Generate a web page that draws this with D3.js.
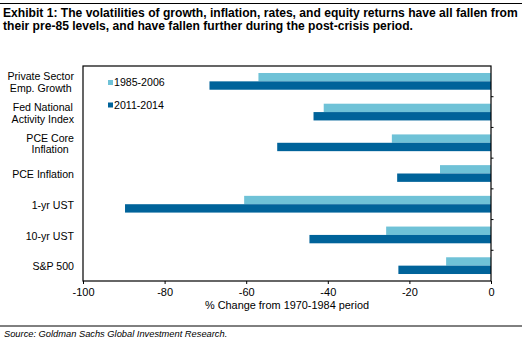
<!DOCTYPE html>
<html>
<head>
<meta charset="utf-8">
<script src="https://cdn.jsdelivr.net/npm/d3@7"></script>
<style>
  body { margin: 0; background: #fff; }
  svg { display: block; font-family: "Liberation Sans", Arial, sans-serif; }
</style>
</head>
<body>
<div id="chart"></div>
<script>
// ===== データ =====
const categories = [
  ["Private Sector", "Emp. Growth"],
  ["Fed National", "Activity Index"],
  ["PCE Core", "Inflation"],
  ["PCE Inflation"],
  ["1-yr UST"],
  ["10-yr UST"],
  ["S&P 500"]
];
const seriesNames = ["1985-2006", "2011-2014"];
const values1985 = [-57, -41, -24.3, -12.5, -60.5, -25.7, -11];
const values2011 = [-69, -43.5, -52.4, -23, -89.7, -44.5, -22.7];
const xTicks = [-100, -80, -60, -40, -20, 0];

const titleLines = [
  "Exhibit 1: The volatilities of growth, inflation, rates, and equity returns have all fallen from",
  "their pre-85 levels, and have fallen further during the post-crisis period."
];
const xLabel = "%  Change from 1970-1984 period";
const sourceText = "Source: Goldman Sachs Global Investment Research.";

// ===== 設定 =====
const W = 529, H = 341;
const PLOT = { left: 83, right: 491, top: 66, bottom: 281 };
const COLORS = ["#6fc2d7", "#00639a"];

const svg = d3.select('#chart').append('svg').attr('width', W).attr('height', H);

// タイトル
svg.append('line').attr('x1', 0).attr('x2', 522).attr('y1', 3.5).attr('y2', 3.5)
  .attr('stroke', '#000').attr('stroke-width', 1);
titleLines.forEach((t, i) => {
  svg.append('text')
    .attr('x', 3).attr('y', 16.5 + i * 13.5)
    .style('font-size', '12.1px').style('font-weight', 'bold')
    .text(t);
});

// スケール
const x = d3.scaleLinear().domain([-100, 0]).range([PLOT.left, PLOT.right]);
const y0 = d3.scaleBand().domain(d3.range(categories.length))
  .range([PLOT.top, PLOT.bottom]).paddingInner(0.455).paddingOuter(0.2275);
const y1 = d3.scaleBand().domain([0, 1]).range([0, y0.bandwidth()]);

const g = svg.append('g');

// バー
const rows = categories.map((c, i) => ({ i, vals: [values1985[i], values2011[i]] }));
g.selectAll('g.cat')
  .data(rows)
  .join('g')
  .attr('class', 'cat')
  .attr('transform', d => `translate(0,${y0(d.i)})`)
  .selectAll('rect')
  .data(d => d.vals.map((v, s) => ({ v, s })))
  .join('rect')
  .attr('x', d => x(d.v))
  .attr('width', d => x(0) - x(d.v))
  .attr('y', d => y1(d.s))
  .attr('height', y1.bandwidth())
  .attr('fill', d => COLORS[d.s]);

// 枠
svg.append('rect')
  .attr('x', PLOT.left).attr('y', PLOT.top)
  .attr('width', PLOT.right - PLOT.left).attr('height', PLOT.bottom - PLOT.top)
  .attr('fill', 'none').attr('stroke', '#000').attr('stroke-width', 1.2);

// 下軸（ハイフンのマイナス表記）
const xAxis = d3.axisBottom(x).tickValues(xTicks).tickSize(3).tickPadding(4)
  .tickFormat(d => String(d));
const xg = svg.append('g').attr('transform', `translate(0,${PLOT.bottom})`).call(xAxis);
xg.select('.domain').remove();
xg.selectAll('text').style('font-size', '11px').attr('fill', '#000')
  .style('font-family', '"Liberation Sans", Arial, sans-serif');

// 右側（0軸）の区切り目盛り
const sepYs = d3.range(1, categories.length).map(i => PLOT.top + i * y0.step());
svg.selectAll('line.sep').data(sepYs).join('line')
  .attr('class', 'sep')
  .attr('x1', PLOT.right).attr('x2', PLOT.right + 2.5)
  .attr('y1', d => d).attr('y2', d => d)
  .attr('stroke', '#000');

svg.append('text')
  .attr('x', (PLOT.left + PLOT.right) / 2).attr('y', 309)
  .attr('text-anchor', 'middle')
  .style('font-size', '10.9px')
  .text(xLabel);

// カテゴリラベル（右寄せブロック内で中央揃え）
const LABEL_RIGHT = 74;
const LINE_H = 11.6;
categories.forEach((lines, i) => {
  const cy = y0(i) + y0.bandwidth() / 2 + 1;
  const tg = svg.append('g');
  const texts = lines.map((ln, k) => tg.append('text')
    .attr('y', cy + (k - (lines.length - 1) / 2) * LINE_H)
    .attr('dy', '0.35em')
    .style('font-size', '10.6px')
    .text(ln));
  const maxW = d3.max(texts, t => t.node().getComputedTextLength());
  texts.forEach(t => t.attr('x', LABEL_RIGHT - maxW / 2).attr('text-anchor', 'middle'));
});

// 凡例
const legend = svg.append('g').attr('transform', 'translate(108,0)');
seriesNames.forEach((name, i) => {
  const cy = 82.5 + i * 22.5;
  legend.append('rect').attr('x', 0).attr('y', cy - 2.5).attr('width', 5).attr('height', 5)
    .attr('fill', COLORS[i]);
  legend.append('text').attr('x', 6).attr('y', cy).attr('dy', '0.35em')
    .style('font-size', '10.6px').text(name);
});

// 出典
svg.append('line').attr('x1', 0).attr('x2', 522).attr('y1', 326).attr('y2', 326)
  .attr('stroke', '#000').attr('stroke-width', 1);
svg.append('text')
  .attr('x', 4).attr('y', 337)
  .style('font-size', '9.3px').style('font-style', 'italic')
  .text(sourceText);
</script>
</body>
</html>
